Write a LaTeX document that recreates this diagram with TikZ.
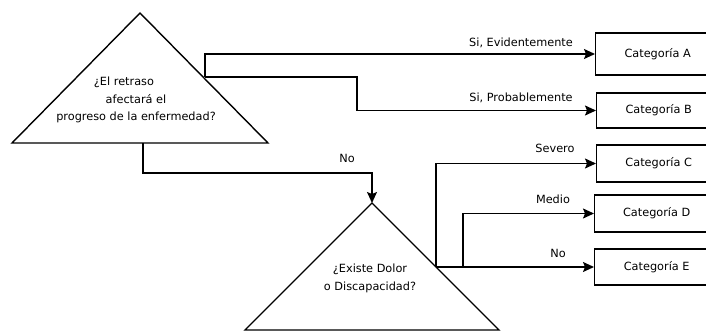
\documentclass[tikz,border=0pt]{standalone}
\usepackage{fontspec}
\setmainfont{DejaVu Sans}
\usetikzlibrary{arrows.meta}
\begin{document}
\begin{tikzpicture}[x=1pt,y=-1pt,
  every node/.style={font=\fontsize{11.3}{17.5}\selectfont, inner sep=0pt},
  shape line/.style={line width=1.4pt, line join=miter},
  catbox/.style={draw, line width=1.4pt, rectangle, minimum width=124pt, anchor=west},
  conn/.style={line width=1.4pt},
  arr/.style={conn, -{Stealth[length=11pt,width=10pt,inset=2pt]}},
  lbl/.style={anchor=base}
]
\useasboundingbox (0,0) rectangle (706,331);
\clip (0,0) rectangle (706,331);
% triangle 1
\coordinate (t1a) at (140,13);
\coordinate (t1l) at (12,143);
\coordinate (t1r) at (268,143);
\draw[shape line] (t1l) -- (t1a) -- (t1r) -- cycle;
\node[align=center] (q1) at (136,100) {¿El retraso\hspace*{24pt}\null\\afectará el\\progreso de la enfermedad?};
% triangle 2
\coordinate (t2a) at (372,203);
\coordinate (t2l) at (245,330);
\coordinate (t2r) at (499,330);
\draw[shape line] (t2l) -- (t2a) -- (t2r) -- cycle;
\node[align=center] (q2) at (370,278.5) {¿Existe Dolor\\o Discapacidad?};
% boxes
\node[catbox, minimum height=42pt] (A) at (595,54) {Categoría A};
\node[catbox, minimum height=35pt] (B) at (596,110.5) {Categoría B};
\node[catbox, minimum height=37pt] (C) at (596,163.5) {Categoría C};
\node[catbox, minimum height=37pt] (D) at (594,213.5) {Categoría D};
\node[catbox, minimum height=36pt] (E) at (594,267) {Categoría E};
% connectors from triangle 1
\coordinate (p1) at (205,77);
\coordinate (p1b) at (143,143);
\draw[arr] (p1) |- (A.west);
\draw[arr] (p1) -- ++(152,0) |- (B.west);
\draw[arr] (p1b) -- ++(0,30) -| (t2a);
% connectors from triangle 2
\coordinate (p2) at (436,267);
\draw[arr] (p2) |- (C.west);
\draw[arr] (p2) -- ++(27,0) |- (D.west);
\draw[arr] (p2) -- (E.west);
% labels
\node[lbl] (l1) at (521,47) {Si, Evidentemente};
\node[lbl] (l2) at (521,102) {Si, Probablemente};
\node[lbl] (l3) at (347,163) {No};
\node[lbl] (l4) at (555,153) {Severo};
\node[lbl] (l5) at (553,203) {Medio};
\node[lbl] (l6) at (558,257) {No};
\end{tikzpicture}
\end{document}
